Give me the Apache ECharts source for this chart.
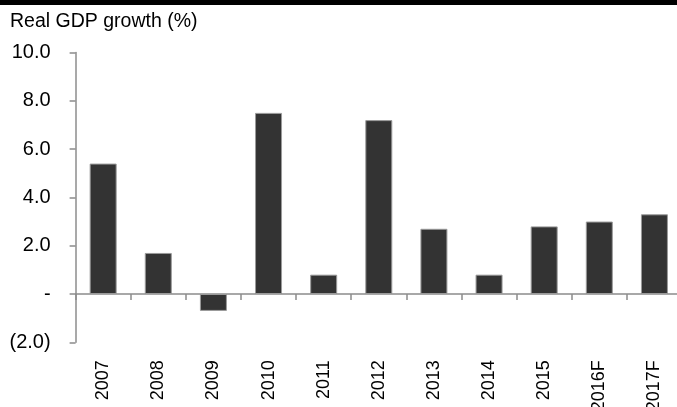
<!DOCTYPE html>
<html>
<head>
<meta charset="utf-8">
<script src="https://cdn.jsdelivr.net/npm/echarts@6/dist/echarts.min.js"></script>
<style>
  html, body { margin: 0; padding: 0; background: #fff; }
  #chart { width: 677px; height: 407px; }
</style>
</head>
<body>
<div id="chart"></div>
<script>
// Real GDP growth by year, with forecasts for 2016 and 2017
const years = ['2007', '2008', '2009', '2010', '2011', '2012', '2013', '2014', '2015', '2016F', '2017F'];
const growth = [5.4, 1.7, -0.7, 7.5, 0.8, 7.2, 2.7, 0.8, 2.8, 3.0, 3.3];
const titleText = 'Real GDP growth (%)';

const FONT = '"Liberation Sans", Arial, sans-serif';
const AXIS_COLOR = '#8c8c8c';

function fmtValue(v) {
  if (v === 0) return '-';
  if (v < 0) return '(' + Math.abs(v).toFixed(1) + ')';
  return v.toFixed(1);
}

const chart = echarts.init(document.getElementById('chart'), null, { renderer: 'canvas' });
chart.setOption({
  animation: false,
  backgroundColor: '#ffffff',
  graphic: [
    {
      type: 'rect',
      left: 0, top: 0,
      shape: { width: 677, height: 5 },
      style: { fill: '#000000' }
    },
    {
      type: 'text',
      left: 10, top: 12,
      style: { text: titleText, fill: '#000000', font: '19.5px ' + FONT }
    }
  ],
  grid: {
    left: 75.6, right: -5, top: 52.5, bottom: 64.7,
    containLabel: false,
    outerBoundsMode: 'none'
  },
  xAxis: {
    type: 'category',
    data: years,
    axisLine: { onZero: true, lineStyle: { color: AXIS_COLOR, width: 1.5 } },
    axisTick: { show: true, interval: 0, length: 6, lineStyle: { color: AXIS_COLOR, width: 1.5 } },
    axisLabel: {
      interval: 0, rotate: 90, margin: 18,
      color: '#000000', fontFamily: FONT, fontSize: 18
    },
    splitLine: { show: false }
  },
  yAxis: {
    type: 'value',
    min: -2, max: 10, interval: 2,
    axisLine: { show: true, lineStyle: { color: AXIS_COLOR, width: 1.5 } },
    axisTick: { show: true, length: 6, lineStyle: { color: AXIS_COLOR, width: 1.5 } },
    axisLabel: {
      margin: 25, color: '#000000', fontFamily: FONT, fontSize: 20,
      formatter: fmtValue
    },
    splitLine: { show: false }
  },
  series: [{
    type: 'bar',
    data: growth,
    barWidth: 27,
    itemStyle: { color: '#333333', borderColor: '#9a9a9a', borderWidth: 1 }
  }]
});
</script>
</body>
</html>
